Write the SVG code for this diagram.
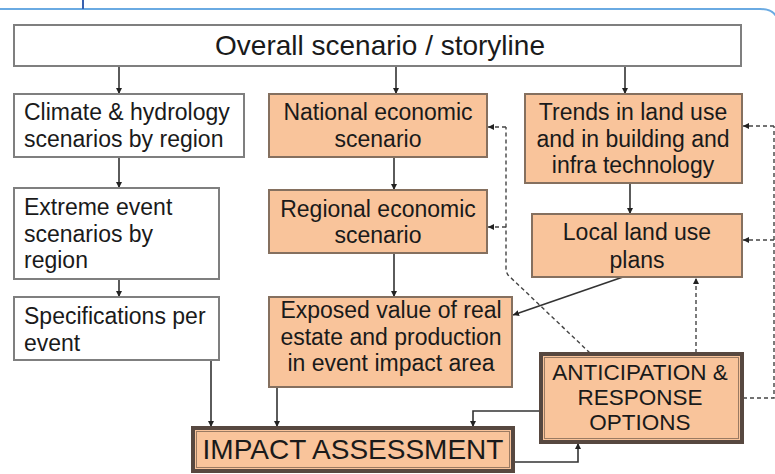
<svg xmlns="http://www.w3.org/2000/svg" width="775" height="474" viewBox="0 0 775 474">
<defs>
<style>
text{font-family:"Liberation Sans",Arial,sans-serif;fill:#1a1a1a;font-size:23px}
.c{text-anchor:middle}
.wbox{fill:#fff;stroke:#7f7f7f;stroke-width:2}
.obox{fill:#f9c49b;stroke:#85705f;stroke-width:2}
.tbox{fill:#f9c49b;stroke:#574840;stroke-width:4}
.tin{fill:none;stroke:#9a7a62;stroke-width:1}
.ln{fill:none;stroke:#333;stroke-width:1.6}
.ds{fill:none;stroke:#444;stroke-width:1.4;stroke-dasharray:4 3}
</style>
<marker id="ah" viewBox="0 0 10 10" refX="10" refY="5" markerWidth="6" markerHeight="6" orient="auto" markerUnits="userSpaceOnUse"><path d="M0,0 L10,5 L0,10 z" fill="#222"/></marker>
</defs>
<rect width="775" height="474" fill="#fff"/>
<g id="frame" fill="none" stroke="#6aaae2" stroke-width="2">
<path d="M0,9 H760 Q772,9 776,16"/>
<line x1="83" y1="0" x2="83" y2="9" stroke="#3a62b0"/>
</g>
<g id="connectors">
<line class="ln" x1="119" y1="66" x2="119" y2="94" marker-end="url(#ah)"/>
<line class="ln" x1="396" y1="66" x2="396" y2="94" marker-end="url(#ah)"/>
<line class="ln" x1="625" y1="66" x2="625" y2="94" marker-end="url(#ah)"/>
<line class="ln" x1="119" y1="157" x2="119" y2="188" marker-end="url(#ah)"/>
<line class="ln" x1="119" y1="279" x2="119" y2="297" marker-end="url(#ah)"/>
<line class="ln" x1="394" y1="157" x2="394" y2="190" marker-end="url(#ah)"/>
<line class="ln" x1="394" y1="253" x2="394" y2="297" marker-end="url(#ah)"/>
<line class="ln" x1="630" y1="183" x2="630" y2="214" marker-end="url(#ah)"/>
<line class="ln" x1="623" y1="277" x2="513" y2="315" marker-end="url(#ah)"/>
<line class="ln" x1="211" y1="360" x2="211" y2="427" marker-end="url(#ah)"/>
<line class="ln" x1="277" y1="387" x2="277" y2="427" marker-end="url(#ah)"/>
<path class="ln" d="M540,411 H473 V427" marker-end="url(#ah)"/>
<path class="ln" d="M514,462 H578 V443" marker-end="url(#ah)"/>
<path class="ds" d="M590,353 L508,275 Q506,272 506,268 V127"/>
<line class="ds" x1="506" y1="127" x2="488" y2="127" marker-end="url(#ah)"/>
<line class="ds" x1="506" y1="227" x2="488" y2="227" marker-end="url(#ah)"/>
<line class="ds" x1="696" y1="353" x2="696" y2="278" marker-end="url(#ah)"/>
<path class="ds" d="M743,398 H774 V126"/>
<line class="ds" x1="774" y1="126" x2="743" y2="126" marker-end="url(#ah)"/>
<line class="ds" x1="774" y1="240" x2="743" y2="240" marker-end="url(#ah)"/>
</g>
<g id="overall">
<rect class="wbox" x="14" y="25" width="727" height="41"/>
<text class="c" x="380" y="55" style="font-size:28px">Overall scenario / storyline</text>
</g>
<g id="climate">
<rect class="wbox" x="14" y="94" width="230" height="63"/>
<text x="24" y="120">Climate &amp; hydrology</text>
<text x="24" y="147">scenarios by region</text>
</g>
<g id="extreme">
<rect class="wbox" x="14" y="188" width="205" height="91"/>
<text x="24" y="215">Extreme event</text>
<text x="24" y="242">scenarios by</text>
<text x="24" y="268">region</text>
</g>
<g id="specifications">
<rect class="wbox" x="14" y="297" width="205" height="63"/>
<text x="24" y="324">Specifications per</text>
<text x="24" y="351">event</text>
</g>
<g id="national">
<rect class="obox" x="269" y="94" width="218" height="63"/>
<text class="c" x="378" y="120">National economic</text>
<text class="c" x="378" y="147">scenario</text>
</g>
<g id="regional">
<rect class="obox" x="269" y="190" width="218" height="63"/>
<text class="c" x="378" y="217">Regional economic</text>
<text class="c" x="378" y="243">scenario</text>
</g>
<g id="exposed">
<rect class="obox" x="269" y="297" width="243" height="90"/>
<text class="c" x="391" y="318">Exposed value of real</text>
<text class="c" x="391" y="345">estate and production</text>
<text class="c" x="391" y="371">in event impact area</text>
</g>
<g id="trends">
<rect class="obox" x="525" y="94" width="217" height="89"/>
<text class="c" x="633" y="120">Trends in land use</text>
<text class="c" x="633" y="147">and in building and</text>
<text class="c" x="633" y="173">infra technology</text>
</g>
<g id="local">
<rect class="obox" x="532" y="214" width="210" height="63"/>
<text class="c" x="637" y="240">Local land use</text>
<text class="c" x="637" y="268">plans</text>
</g>
<g id="anticipation">
<rect class="tbox" x="541" y="354" width="201" height="88"/>
<rect class="tin" x="544.5" y="357.5" width="194" height="81"/>
<text class="c" x="640" y="380" style="font-size:22.5px">ANTICIPATION &amp;</text>
<text class="c" x="640" y="405" style="font-size:22.5px">RESPONSE</text>
<text class="c" x="640" y="430" style="font-size:22.5px">OPTIONS</text>
</g>
<g id="impact">
<rect class="tbox" x="193" y="428" width="320" height="43"/>
<rect class="tin" x="196.5" y="431.5" width="313" height="36"/>
<text class="c" x="353" y="459" style="font-size:28px">IMPACT ASSESSMENT</text>
</g>
</svg>
